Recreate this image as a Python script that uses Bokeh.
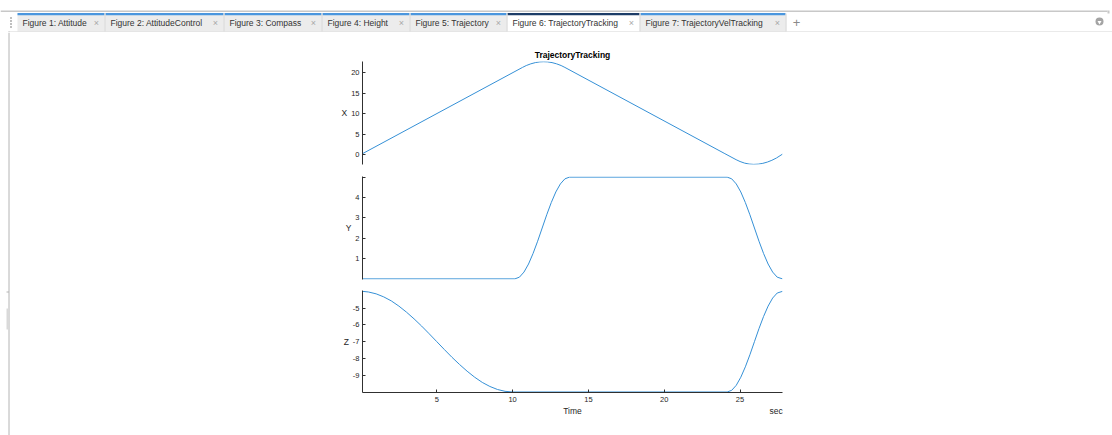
from bokeh.plotting import figure
from bokeh.layouts import column, row
from bokeh.models import Range1d, FixedTicker, LinearAxis
from bokeh.core.properties import value
from bokeh.embed import file_html
from bokeh.resources import INLINE

# ---------------- data ----------------
tab_labels = ["Figure 1: Attitude", "Figure 2: AttitudeControl", "Figure 3: Compass",
              "Figure 4: Height", "Figure 5: Trajectory", "Figure 6: TrajectoryTracking",
              "Figure 7: TrajectoryVelTracking"]
active_tab = 5
chart_title = "TrajectoryTracking"
time_label = "Time"
time_unit = "sec"
series_labels = ["X", "Y", "Z"]

x_time = [0.1, 10.65, 10.9, 11.2, 11.5, 11.8, 12.05, 12.3, 12.6, 12.9, 13.2, 13.45,
          24.0, 24.74, 25.0, 25.3, 25.6, 25.9, 26.2, 26.5, 26.8, 27.1, 27.4, 27.8]
x_vals = [0.2, 21.3, 21.76, 22.18, 22.48, 22.66, 22.7, 22.66, 22.48, 22.18, 21.76, 21.3,
          0.2, -1.27, -1.72, -2.11, -2.34, -2.42, -2.36, -2.17, -1.86, -1.42, -0.86, 0.09]

y_time = [0.1, 10.15, 10.45, 10.75, 11.05, 11.35, 11.65, 11.95, 12.25, 12.55, 12.85, 13.15,
          13.45, 13.75, 24.15, 24.45, 24.75, 25.05, 25.35, 25.65, 25.95, 26.25, 26.55,
          26.85, 27.15, 27.45, 27.8]
y_vals = [0.0, 0.0, 0.085, 0.335, 0.73, 1.25, 1.85, 2.5, 3.15, 3.75, 4.27, 4.665,
          4.915, 5.0, 5.0, 4.915, 4.665, 4.27, 3.75, 3.15, 2.5, 1.85, 1.25,
          0.73, 0.335, 0.085, 0.0]

z_time = [0.1, 0.5, 1.0, 1.5, 2.0, 2.5, 3.0, 3.5, 4.0, 4.5, 5.0, 5.5, 6.0, 6.5, 7.0,
          7.5, 8.0, 8.5, 9.0, 9.5, 10.0, 24.15, 24.45, 24.75, 25.05, 25.35, 25.65,
          25.95, 26.25, 26.55, 26.85, 27.15, 27.45, 27.8]
z_vals = [-4.0, -4.04, -4.15, -4.33, -4.57, -4.88, -5.24, -5.64, -6.07, -6.53, -7.0,
          -7.47, -7.93, -8.36, -8.76, -9.12, -9.43, -9.67, -9.85, -9.96, -10.0, -10.0,
          -9.9, -9.6, -9.12, -8.5, -7.78, -7.0, -6.22, -5.5, -4.88, -4.4, -4.1, -4.0]

x_ticks = [0, 5, 10, 15, 20]
y_ticks = [1, 2, 3, 4, 5]
y_tick_text = ["1", "2", "3", "4", ""]
z_ticks = [-9, -8, -7, -6, -5]
time_ticks = [5, 10, 15, 20, 25]

# ---------------- style / layout constants ----------------
FONT = "Liberation Sans"
LINE = "#3590d6"
AX = "#303030"
LBL = "#262626"
W = 1112
TAB_H = 32
STRIP_W = 10
CHART_W = W - STRIP_W
CHART_H = 435 - TAB_H
T_MIN, T_MAX = 0.1, 27.8
TIME_POS = (T_MIN + T_MAX) / 2      # centred caption position
UNIT_POS = 27.38                     # right-aligned unit caption position

tab_left = [17, 105, 224, 322, 410, 507, 640]
tab_right = [104, 223, 321, 409, 506, 639, 785]


def bare(width, height, xr, yr):
    f = figure(width=width, height=height, x_range=xr, y_range=yr,
               output_backend="svg", toolbar_location=None, min_border=0,
               outline_line_color=None, x_axis_location=None, y_axis_location=None,
               background_fill_color="white", border_fill_color="white")
    f.grid.visible = False
    f.title.visible = False
    return f


# ---------------- tab bar ----------------
tb = bare(W, TAB_H, Range1d(0, W), Range1d(TAB_H, 0))
tb.quad(left=[0], right=[1107], top=[10], bottom=[11.6], fill_color="#c8c8c8", line_color=None)
tb.quad(left=[1107], right=[1109], top=[10], bottom=[13], fill_color="#c8c8c8", line_color=None)
n = len(tab_labels)
fills = ["#ffffff" if i == active_tab else "#ececec" for i in range(n)]
tops = ["#1d3d68" if i == active_tab else "#4a96de" for i in range(n)]
tb.quad(left=tab_left, right=tab_right, top=[13] * n, bottom=[31] * n,
        fill_color=fills, line_color=None)
tb.quad(left=tab_left, right=tab_right, top=[12.5] * n, bottom=[14.8] * n,
        fill_color=tops, line_color=None)
tb.segment(x0=[x + 0.5 for x in tab_right], y0=[13] * n, x1=[x + 0.5 for x in tab_right],
           y1=[31] * n, line_color="#d0d0d0", line_width=1)
tb.segment(x0=[8], y0=[31.5], x1=[W], y1=[31.5], line_color="#d4d4d4", line_width=1)
tb.segment(x0=[8.5], y0=[31], x1=[8.5], y1=[32], line_color="#b0b0b0", line_width=1)
tb.scatter(x=[10.5] * 4, y=[17.5, 20.5, 23.5, 26.5], size=1.8, marker="square",
           fill_color="#b8b8b8", line_color=None)
tb.text(x=[x + 5 for x in tab_left], y=[22] * n, text=tab_labels,
        text_font=value(FONT), text_font_size=value("8.5px"), text_color="#333333",
        text_baseline="middle", text_align="left")
tb.text(x=[x - 8 for x in tab_right], y=[22] * n, text=["\u00d7"] * n,
        text_font=value(FONT), text_font_size=value("9px"), text_color="#a8a8a8",
        text_baseline="middle", text_align="center")
tb.text(x=[796], y=[21.5], text=["+"], text_font=value(FONT), text_font_size=value("13px"),
        text_color="#8a8a8a", text_baseline="middle", text_align="center")
tb.scatter(x=[1099], y=[21], size=8, marker="circle", fill_color="#a4a4a4", line_color=None)
tb.scatter(x=[1099], y=[21.6], size=4, marker="inverted_triangle", fill_color="white",
           line_color=None)

# ---------------- left window strip ----------------
st = bare(STRIP_W, CHART_H, Range1d(0, STRIP_W), Range1d(CHART_H, 0))
st.segment(x0=[8.5], y0=[0], x1=[8.5], y1=[CHART_H], line_color="#b4b4b4", line_width=1)
st.segment(x0=[6], y0=[259.5], x1=[8.5], y1=[259.5], line_color="#b4b4b4", line_width=1)
st.quad(left=[6], right=[8], top=[276], bottom=[297], fill_color="#d9d9d9", line_color=None)

# ---------------- stacked panels ----------------
xr = Range1d(T_MIN, T_MAX)


def style_axis(ax, ticks, labels):
    ax.ticker = FixedTicker(ticks=ticks)
    ax.major_label_overrides = {t: s for t, s in zip(ticks, labels)}
    ax.axis_line_color = AX
    ax.axis_line_width = 1
    ax.major_tick_line_color = AX
    ax.major_tick_in = 3
    ax.major_tick_out = 0
    ax.minor_tick_line_color = None
    ax.major_label_text_font = FONT
    ax.major_label_text_font_size = "7.5px"
    ax.major_label_text_color = LBL
    ax.major_label_standoff = 3
    ax.axis_label_text_font = FONT
    ax.axis_label_text_font_style = "normal"
    ax.axis_label_text_color = LBL


def panel(height, b_top, b_bottom, yr, ticks, labels, name, t, v, show_x=False):
    p = figure(width=CHART_W, height=height, x_range=xr, y_range=yr,
               output_backend="svg", toolbar_location=None,
               min_border_left=352, min_border_right=330,
               min_border_top=b_top, min_border_bottom=b_bottom,
               x_axis_location="below" if show_x else None,
               outline_line_color=None, background_fill_color="white",
               border_fill_color="white")
    p.grid.visible = False
    ax = p.yaxis[0]
    style_axis(ax, ticks, labels)
    ax.axis_label = name
    ax.axis_label_orientation = "horizontal"
    ax.axis_label_standoff = 1
    ax.axis_label_text_font_size = "8.5px"
    p.line(t, v, line_color=LINE, line_width=1)
    return p


p1 = panel(136, 29, 4, Range1d(-2.45, 22.75), x_ticks, [str(t) for t in x_ticks],
           series_labels[0], x_time, x_vals)
p1.title.text = chart_title
p1.title.visible = True
p1.title.align = "center"
p1.title.text_font = FONT
p1.title.text_font_size = "8.5px"
p1.title.text_font_style = "bold"
p1.title.text_color = "#000000"
p1.title.standoff = 4
p1.title.offset = 0

p2 = panel(116, 8, 5, Range1d(-0.03, 5.03), y_ticks, y_tick_text,
           series_labels[1], y_time, y_vals)
p2.title.visible = False

p3 = panel(151, 6, 43, Range1d(-10.03, -3.95), z_ticks, [str(t) for t in z_ticks],
           series_labels[2], z_time, z_vals, show_x=True)
p3.title.visible = False
xa = p3.xaxis[0]
style_axis(xa, time_ticks, [str(t) for t in time_ticks])
xa.major_label_standoff = 4

# caption row under the time axis: "Time" centred, unit "sec" at the right end
cap = LinearAxis()
style_axis(cap, [TIME_POS, UNIT_POS], [time_label, time_unit])
cap.axis_line_color = None
cap.major_tick_line_color = None
cap.major_tick_in = 0
cap.major_label_standoff = 1
cap.major_label_text_font_size = "8.5px"
p3.add_layout(cap, "below")

page = column(tb, row(st, column(p1, p2, p3)))
open("out.html", "w").write(file_html(page, INLINE, title="TrajectoryTracking"))
